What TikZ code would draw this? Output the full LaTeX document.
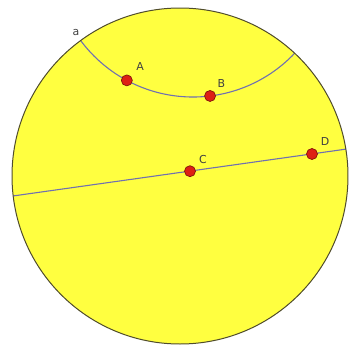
\documentclass[tikz,border=0pt]{standalone}
\usepackage{fontspec}
\setmainfont{DejaVu Sans}
\usetikzlibrary{calc}
\definecolor{diskfill}{RGB}{255,255,64}
\definecolor{diskedge}{RGB}{80,76,44}
\definecolor{geoline}{RGB}{112,112,176}
\definecolor{ptfill}{RGB}{222,32,20}
\definecolor{ptedge}{RGB}{130,20,10}
\tikzset{
  pt/.style={circle,fill=ptfill,draw=ptedge,line width=0.7pt,inner sep=0pt,minimum size=11bp},
  lbl/.style={font=\fontsize{11}{13}\selectfont,text=black!75,inner sep=1pt}
}
\begin{document}
\begin{tikzpicture}[x=1bp,y=-1bp,line cap=round,line join=round]
  \useasboundingbox (0,0) rectangle (349,349);
  \coordinate (O) at (180,176);
  \coordinate (K) at (193,-43);
  \fill[diskfill] (O) circle (168);
  \begin{scope}
    \clip (O) circle (168);
    \draw[geoline,line width=1.1pt] (K) circle (140);
    \coordinate (L) at (0,197.8);
    \coordinate (R) at (349,148.7);
    \draw[geoline,line width=1.1pt] (L) -- (R);
  \end{scope}
  \draw[diskedge,line width=1pt] (O) circle (168);
  \node[pt] (A) at ($(K)+(118.2:140)$) {};
  \node[pt] (B) at ($(K)+(83:140)$) {};
  \node[pt] (C) at (190,171.2) {};
  \node[pt] (D) at (312,154) {};
  \node[lbl] (la) at (76,33) {a};
  \node[lbl] (lA) at (140,67) {A};
  \node[lbl] (lB) at (221.5,83.5) {B};
  \node[lbl] (lC) at (203,160) {C};
  \node[lbl] (lD) at (325,141.5) {D};
\end{tikzpicture}
\end{document}
